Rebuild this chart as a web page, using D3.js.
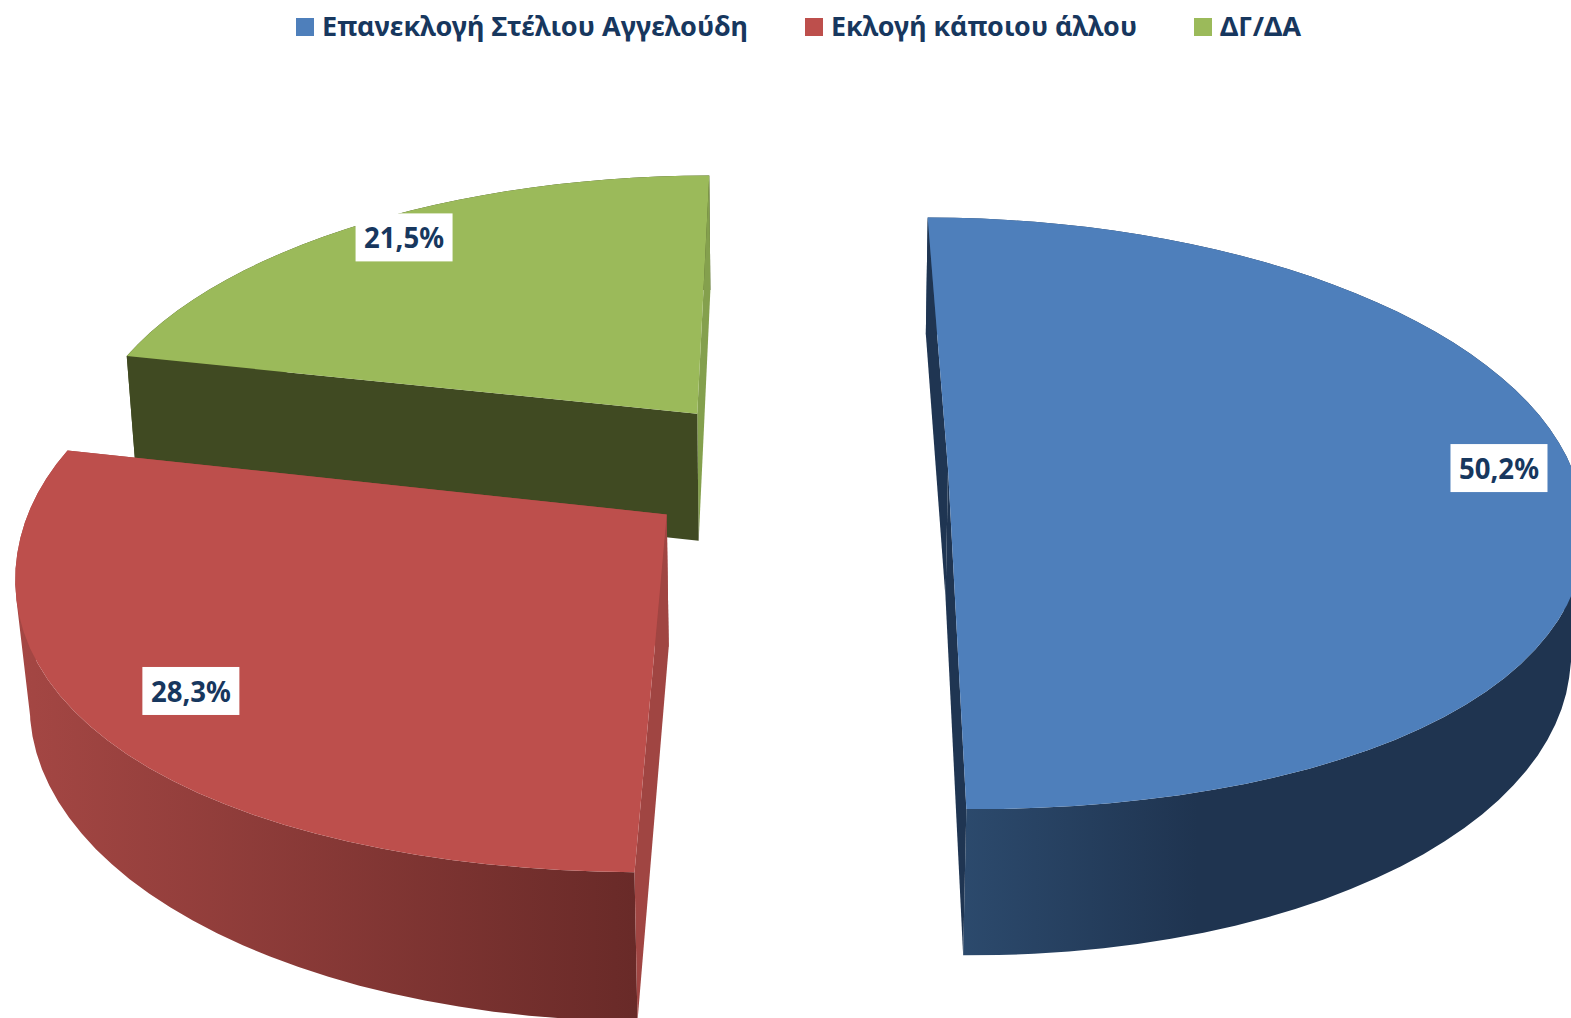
<!DOCTYPE html>
<html lang="el">
<head>
<meta charset="UTF-8" />
<title>Pie</title>
<style>
  body { margin: 0; background: #fff; overflow: hidden; }
  text { font-family: "Noto Sans", "Open Sans", sans-serif; font-weight: 700; fill: #17375e; }
</style>
</head>
<body>
<div id="chart"></div>
<script src="https://cdn.jsdelivr.net/npm/d3@7"></script>
<script>
// data
var categories = ["Επανεκλογή Στέλιου Αγγελούδη", "Εκλογή κάποιου άλλου", "ΔΓ/ΔΑ"];
var values = [50.2, 28.3, 21.5];

// colours per slice
var topColors = ["#4e7fbb", "#bd4f4c", "#9bba5a"];
var wallColors = ["#1f3552", "#a04542", "#404a22"];    // cut face on the start side
var endWallColors = ["#1f3552", "#a04542", "#84a04d"]; // cut face on the end side
var rimLeft = ["#2c4a6d", "#a54744", "#404a22"];
var rimRight = ["#1f3450", "#692a28", "#404a22"];

var w = 1571, h = 1018;

// perspective of the disc, fitted to the picture
var cx = 792, cy = 468.5, rx = 624, ry = 289;
var persp = 0.15;      // foreshortening front to back
var thick = 132;       // height of the pie
var thickPersp = 0.0159;
var explode = 0.25;
var bulge = 0.017;     // top face is a bit fuller towards the front corners
var labelRadius = [0.885, 0.858, 0.90];
var labelNudge = [[-2, -2.5], [3.5, 1], [7.5, -2.5]];

var xScale = d3.scaleLinear().domain([-1, 1]).range([cx - rx, cx + rx]);
var yScale = d3.scaleLinear().domain([-1, 1]).range([cy - ry, cy + ry]);

// X,Y on the unit disc (Y to the viewer), Z 0 = top face, 1 = bottom face
function project(X, Y, Z) {
  var q = 1 - persp * Y + thickPersp * Z;
  return [xScale(X / q), yScale((Y + Z * thick / ry) / q)];
}

var svg = d3.select("#chart").append("svg")
  .attr("width", w)
  .attr("height", h);

var defs = svg.append("defs");
var line = d3.line();

var pie = d3.pie().sort(null).value(function(d) { return d; });
var slices = pie(values);

function discPoint(s, a, r) {
  var mid = (s.startAngle + s.endAngle) / 2;
  return [
    explode * Math.sin(mid) + r * Math.sin(a),
    -explode * Math.cos(mid) - r * Math.cos(a)
  ];
}

// amt = how much of the front corner bulge to use
function rim(s, amt) {
  var n = Math.ceil((s.endAngle - s.startAngle) / 0.05);
  return d3.range(n + 1).map(function(i) {
    var a = s.startAngle + (s.endAngle - s.startAngle) * i / n;
    var front = Math.cos(a) < 0 ? Math.pow(Math.sin(2 * a), 2) : 0;
    return discPoint(s, a, 1 + amt * front);
  });
}

function at(p, Z) { return project(p[0], p[1], Z); }

// back to front: green, red, blue
[2, 1, 0].forEach(function(i) {
  var s = slices[i];
  var g = svg.append("g").attr("class", "slice");
  var topEdge = rim(s, bulge);
  var bottomEdge = rim(s, 0);
  var apex = discPoint(s, 0, 0);
  var first = bottomEdge[0], last = bottomEdge[bottomEdge.length - 1];

  var grad = defs.append("linearGradient")
    .attr("id", "rim" + i)
    .attr("gradientUnits", "userSpaceOnUse")
    .attr("x1", i == 0 ? xScale(0.27) : xScale(-1.25))
    .attr("x2", i == 0 ? xScale(0.65) : xScale(-0.25))
    .attr("y1", 0)
    .attr("y2", 0);
  grad.append("stop").attr("offset", 0).attr("stop-color", rimLeft[i]);
  grad.append("stop").attr("offset", 1).attr("stop-color", rimRight[i]);

  // outer wall: one quad per rim step in a single path, all wound the same way
  // so nothing cancels where the wall folds round the silhouette
  var wallPath = d3.range(topEdge.length - 1).map(function(k) {
    var quad = [at(topEdge[k], 0), at(topEdge[k + 1], 0), at(bottomEdge[k + 1], 1), at(bottomEdge[k], 1)];
    if (d3.polygonArea(quad) < 0) quad.reverse();
    return line(quad) + "Z";
  }).join("");
  g.append("path")
    .attr("d", wallPath)
    .attr("fill", "url(#rim" + i + ")");

  g.append("path")
    .attr("d", line([at(apex, 0), at(last, 0), at(last, 1), at(apex, 1)]) + "Z")
    .attr("fill", endWallColors[i]);

  g.append("path")
    .attr("d", line([at(apex, 0), at(first, 0), at(first, 1), at(apex, 1)]) + "Z")
    .attr("fill", wallColors[i]);

  var face = [at(apex, 0)].concat(topEdge.map(function(p) { return at(p, 0); }));
  g.append("path")
    .attr("d", line(face) + "Z")
    .attr("fill", topColors[i]);
});

// data labels
var labelW = 97, labelH = 48;
var fmt = function(v) { return d3.format(".1f")(v).replace(".", ",") + "%"; };

slices.forEach(function(s, i) {
  var mid = (s.startAngle + s.endAngle) / 2;
  var pos = at(discPoint(s, mid, labelRadius[i]), 0);
  pos = [pos[0] + labelNudge[i][0], pos[1] + labelNudge[i][1]];
  var g = svg.append("g").attr("class", "label");
  g.append("rect")
    .attr("x", pos[0] - labelW / 2)
    .attr("y", pos[1] - labelH / 2)
    .attr("width", labelW)
    .attr("height", labelH)
    .attr("fill", "#fff");
  g.append("text")
    .attr("x", pos[0])
    .attr("y", pos[1] + 11)
    .attr("text-anchor", "middle")
    .attr("textLength", 80)
    .attr("lengthAdjust", "spacingAndGlyphs")
    .style("font-size", "29px")
    .text(fmt(s.value));
});

// legend
var legendX = [296, 805, 1194];
var legendW = [426, 306, 81];
var legend = svg.append("g").attr("class", "legend");

categories.forEach(function(c, i) {
  legend.append("rect")
    .attr("x", legendX[i])
    .attr("y", 18)
    .attr("width", 18)
    .attr("height", 18)
    .attr("fill", topColors[i]);
  legend.append("text")
    .attr("x", legendX[i] + 26)
    .attr("y", 36)
    .attr("textLength", legendW[i])
    .attr("lengthAdjust", "spacingAndGlyphs")
    .style("font-size", "26px")
    .text(c);
});
</script>
</body>
</html>
